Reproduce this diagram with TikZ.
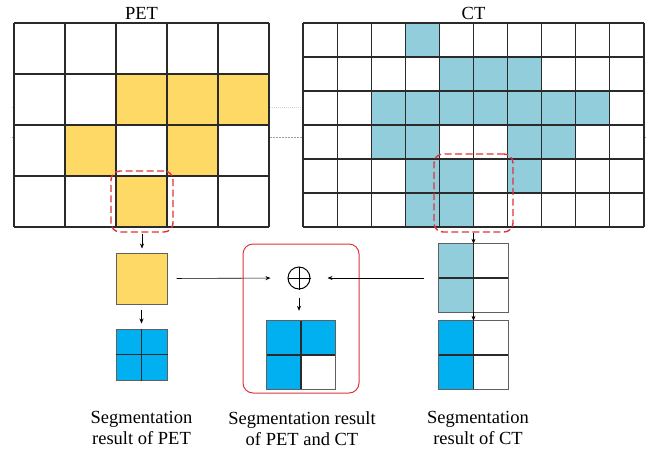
\documentclass[tikz,border=0pt]{standalone}
\usepackage{fontspec}
\setmainfont{Liberation Serif}
\usetikzlibrary{arrows.meta}
\definecolor{petyellow}{HTML}{FFD966}
\definecolor{ctblue}{HTML}{92CDDC}
\definecolor{segblue}{HTML}{00B0F0}
\definecolor{selred}{HTML}{E0343A}
\definecolor{gridc}{HTML}{2A2A2A}
\definecolor{boxc}{HTML}{606060}
\begin{document}
\begin{tikzpicture}[x=1pt,y=-1pt,
  gridline/.style={draw=gridc, line width=1.1pt},
  gridbg/.style={fill=white, inner sep=0pt, anchor=north west},
  selbox/.style={draw=selred, line width=1.4pt, dash pattern=on 7pt off 3.5pt, rounded corners=9pt, inner sep=0pt},
  arr/.style={-{Stealth[length=5pt,width=4pt]}, line width=0.6pt, black},
  cellbox/.style={inner sep=0pt},
  boxline/.style={draw=boxc, line width=1pt},
  title/.style={anchor=base, inner sep=0pt, font=\rmfamily\fontsize{18.5}{21}\selectfont},
  caption/.style={align=center, anchor=north, inner sep=0pt, font=\rmfamily\fontsize{18.5}{21}\selectfont}]
\useasboundingbox (0,0) rectangle (653,451);

% faint guide lines behind the grids
\draw[gray!35, line width=0.6pt, dash pattern=on 1pt off 1pt] (12,107) -- (646,107);
\draw[gray!75, line width=0.6pt, dash pattern=on 2pt off 1pt] (12,137.5) -- (646,137.5);

% ---------- PET grid ----------
\node[gridbg, minimum width=255pt, minimum height=204pt] (petgrid) at (14,23) {};
\foreach \r/\c in {1/2,1/3,1/4,2/1,2/3,3/2}
  \fill[petyellow] ({14+51*\c},{23+51*\r}) rectangle ++(51,51);
\foreach \i in {0,...,5}
  \draw[gridline] ({14+51*\i},23) -- ++(0,204);
\foreach \j in {0,...,4}
  \draw[gridline] (14,{23+51*\j}) -- ++(255,0);
\node[title] (pettitle) at (141.5,19.3) {PET};

% ---------- CT grid ----------
\node[gridbg, minimum width=341pt, minimum height=204pt] (ctgrid) at (303,23) {};
\foreach \r/\c in {0/3,1/4,1/5,1/6,2/2,2/3,2/4,2/5,2/6,2/7,2/8,3/2,3/3,3/6,3/7,4/3,4/4,4/6,5/3,5/4}
  \fill[ctblue] ({303+34.1*\c},{23+34*\r}) rectangle ++(34.1,34);
\foreach \i in {0,...,10}
  \draw[gridline] ({303+34.1*\i},23) -- ++(0,204);
\foreach \j in {0,...,6}
  \draw[gridline] (303,{23+34*\j}) -- ++(341,0);
\node[title] (cttitle) at (473.5,19.3) {CT};

% selection boxes
\node[selbox, minimum width=62pt, minimum height=61pt] (petsel) at (142,201.5) {};
\node[selbox, minimum width=79pt, minimum height=78pt] (ctsel) at (473.5,193) {};

% ---------- PET branch ----------
\node[cellbox, fill=petyellow, boxline, minimum size=51pt] (ysq) at (141.5,278.5) {};
\node[cellbox, fill=segblue, boxline, minimum size=51pt] (petseg) at (141.5,354.5) {};
\draw[gridline] (petseg.north) -- (petseg.south);
\draw[gridline] (petseg.west) -- (petseg.east);

% ---------- combination ----------
\node[draw=selred, line width=1pt, rounded corners=10pt, inner sep=0pt, minimum width=116pt, minimum height=149pt] (redbox) at (301,318.5) {};
\node[circle, draw, line width=1pt, minimum size=22pt, inner sep=0pt] (op) at (299,278) {};
\draw[line width=1pt] (op.north) -- (op.south) (op.west) -- (op.east);
\node[cellbox, minimum size=68pt] (comb) at (301,355) {};
\fill[segblue] (comb.north west) rectangle (comb.east);
\fill[segblue] (comb.west) rectangle (comb.south);
\draw[boxline] (comb.north west) rectangle (comb.south east);
\draw[gridline] (comb.north) -- (comb.south);
\draw[gridline] (comb.west) -- (comb.east);

% ---------- CT branch ----------
\node[cellbox, minimum width=69pt, minimum height=68pt] (ctcrop) at (473.5,278) {};
\fill[ctblue] (ctcrop.north west) rectangle (ctcrop.south);
\draw[boxline] (ctcrop.north west) rectangle (ctcrop.south east);
\draw[gridline] (ctcrop.north) -- (ctcrop.south);
\draw[gridline] (ctcrop.west) -- (ctcrop.east);
\node[cellbox, minimum width=69pt, minimum height=68pt] (ctseg) at (473.5,355) {};
\fill[segblue] (ctseg.north west) rectangle (ctseg.south);
\draw[boxline] (ctseg.north west) rectangle (ctseg.south east);
\draw[gridline] (ctseg.north) -- (ctseg.south);
\draw[gridline] (ctseg.west) -- (ctseg.east);

% ---------- arrows ----------
\draw[arr, shorten <=1pt, shorten >=4pt] (petsel.south) -- (petsel.south |- ysq.north);
\draw[arr, shorten <=5pt, shorten >=5pt] (ysq.south) -- (petseg.north);
\draw[arr, shorten <=9pt, shorten >=17pt] (ysq.east) -- (op.west);
\draw[arr, shorten <=15pt, shorten >=17pt] (ctcrop.west) -- (op.east);
\draw[arr, shorten <=8pt, shorten >=10pt] (op.south) -- (op.south |- comb.north);
\draw[arr] (ctsel.south) -- (ctcrop.north);
\draw[arr] (ctcrop.south) -- (ctseg.north);

% ---------- captions ----------
\node[caption] (petlab) at (141.5,411) {Segmentation\\result of PET};
\node[caption] (comblab) at (302,411) {Segmentation result\\of PET and CT};
\node[caption] (ctlab) at (478,411) {Segmentation\\result of CT};
\end{tikzpicture}
\end{document}
